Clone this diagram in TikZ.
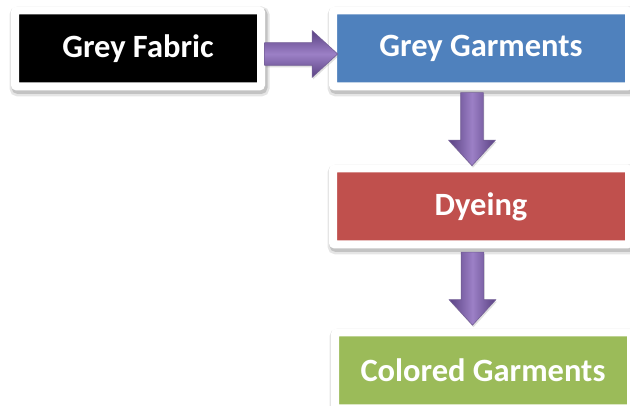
\documentclass[tikz,border=0pt]{standalone}
\usepackage{fontspec}
\setmainfont{Carlito}
\usetikzlibrary{positioning,calc,shapes.arrows,shadows}

\definecolor{fabricblack}{HTML}{000000}
\definecolor{garmentblue}{HTML}{4F81BD}
\definecolor{dyered}{HTML}{C0504D}
\definecolor{colorgreen}{HTML}{9BBB59}
\definecolor{arrowdark}{HTML}{5A4283}
\definecolor{arrowlight}{HTML}{9C80C6}

\begin{document}
\begin{tikzpicture}[
    every node/.append style={font=\fontsize{32.5}{38}\selectfont\bfseries},
    stepbox/.style={rectangle, draw=white, line width=8pt, rounded corners=2pt, text=white,
        minimum width=296pt, minimum height=76pt, inner sep=0pt, outer sep=0pt,
        preaction={draw=black, opacity=0.10, line width=14pt, transform canvas={xshift=1.5pt, yshift=-3pt}},
        preaction={draw=black, opacity=0.15, line width=10pt, transform canvas={xshift=1.5pt, yshift=-2.5pt}}},
    blockarrow/.style={single arrow, minimum height=73pt, inner sep=11pt, outer sep=0pt,
        single arrow head extend=12pt, single arrow head indent=0pt, single arrow tip angle=85,
        draw=arrowdark!85, line width=0.6pt,
        drop shadow={shadow xshift=1pt, shadow yshift=-2pt, opacity=0.25}}
]
    \useasboundingbox (0pt,0pt) rectangle (630pt,-406pt);
    \begin{scope}
    \clip (0pt,0pt) rectangle (630pt,-406pt);

    % Cajas del proceso
    \node[stepbox, fill=fabricblack, minimum width=246pt] (fabric) at (138pt,-48.5pt) {Grey Fabric};
    \node[stepbox, fill=garmentblue] (garments) at (481pt,-48.5pt) {Grey Garments};
    \node[stepbox, fill=dyered, below=82pt of garments] (dyeing) {Dyeing};
    \node[stepbox, fill=colorgreen, below=88pt of dyeing, xshift=2pt] (colored) {Colored Garments};

    % Flechas de bloque
    \node[blockarrow, top color=arrowdark, bottom color=arrowdark, middle color=arrowlight]
        (a1) at ($(fabric.east)!0.5!(garments.west)+(-2pt,-5.5pt)$) {};
    \node[blockarrow, shape border rotate=270, left color=arrowdark, right color=arrowdark, middle color=arrowlight]
        (a2) at ($(garments.south)!0.5!(dyeing.north)+(-9pt,4.5pt)$) {};
    \node[blockarrow, shape border rotate=270, left color=arrowdark, right color=arrowdark, middle color=arrowlight]
        (a3) at ($(dyeing.south)!0.5!(colored.north)+(-9.5pt,6pt)$) {};
    \end{scope}
\end{tikzpicture}
\end{document}
